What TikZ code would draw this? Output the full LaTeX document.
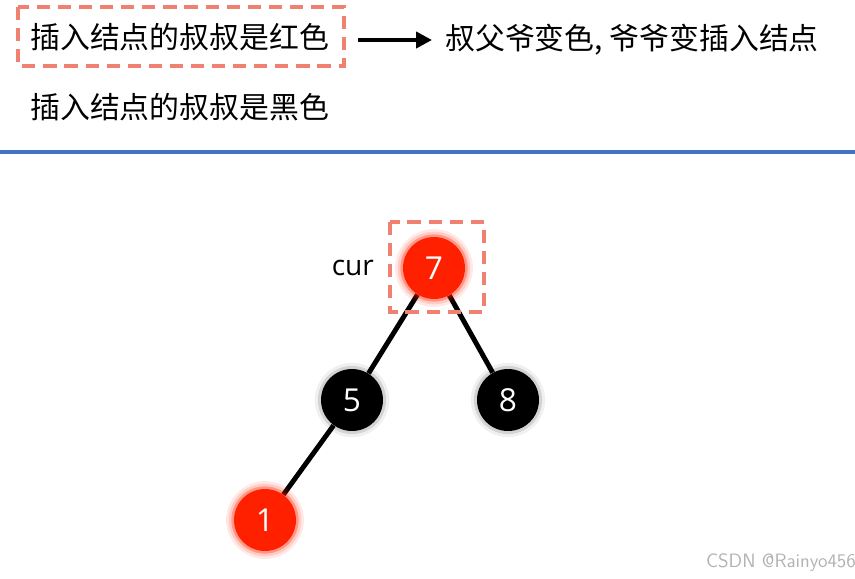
\documentclass[tikz,border=0pt]{standalone}
\usepackage{fontspec}
\setmainfont{Noto Sans CJK SC}
\newfontfamily\numfont{Open Sans}
\usetikzlibrary{arrows.meta,positioning,backgrounds}

\definecolor{salmon}{HTML}{F08070}
\definecolor{nodered}{HTML}{FF2000}
\definecolor{lineblue}{HTML}{4472C4}

\begin{document}
\begin{tikzpicture}[
    x=0.02cm, y=-0.02cm,
    case/.style={font=\fontsize{17}{20}\selectfont, inner sep=0pt, anchor=west},
    hilite/.style={draw=salmon, line width=2.3pt, dash pattern=on 7.5pt off 4.5pt},
    rbnode/.style={circle, minimum size=1.24cm, inner sep=0pt, text=white,
      font=\numfont\fontsize{18}{20}\selectfont},
    rednode/.style={rbnode, fill=nodered,
      preaction={draw=nodered, line width=9pt, opacity=0.1},
      preaction={draw=nodered, line width=6pt, opacity=0.15},
      preaction={draw=nodered, line width=3pt, opacity=0.3}},
    blacknode/.style={rbnode, fill=black,
      preaction={draw=black, line width=7pt, opacity=0.06},
      preaction={draw=black, line width=3.5pt, opacity=0.12}},
    edge/.style={line width=2.8pt}
  ]
  \useasboundingbox (0,0) rectangle (855,578);
  % cases
  \node[case] (red_case) at (30,37) {插入结点的叔叔是红色};
  \node[case] (black_case) at (30,107) {插入结点的叔叔是黑色};
  \node[case] (result) at (445,40) {叔父爷变色, 爷爷变插入结点};
  \draw[hilite] (18,7) rectangle (344,66);
  \coordinate (arrow_from) at (358,40);
  \draw[-{Triangle[length=9pt,width=9pt]}, line width=2.6pt] (arrow_from) -- (result.west -| 432,0);
  \draw[lineblue, line width=2.8pt] (0,152) -- (855,152);
  % tree
  \node[rednode] (n7) at (434,268) {7};
  \node[blacknode] (n5) at (352,400) {5};
  \node[blacknode] (n8) at (508,400) {8};
  \node[rednode] (n1) at (265,520) {1};
  \node[font=\numfont\fontsize{16}{18}\selectfont, left=0.45cm of n7] (cur) {cur};
  \begin{scope}[on background layer]
  \draw[edge] (n7) -- (n5);
  \draw[edge] (n7) -- (n8);
  \draw[edge] (n5) -- (n1);
  \end{scope}
  \draw[hilite] (390,222) rectangle (484,312);
  \node[text=black!30, font=\fontsize{11}{12}\selectfont\sffamily] (mark) at (781,563) {CSDN @Rainyo456};
\end{tikzpicture}
\end{document}
